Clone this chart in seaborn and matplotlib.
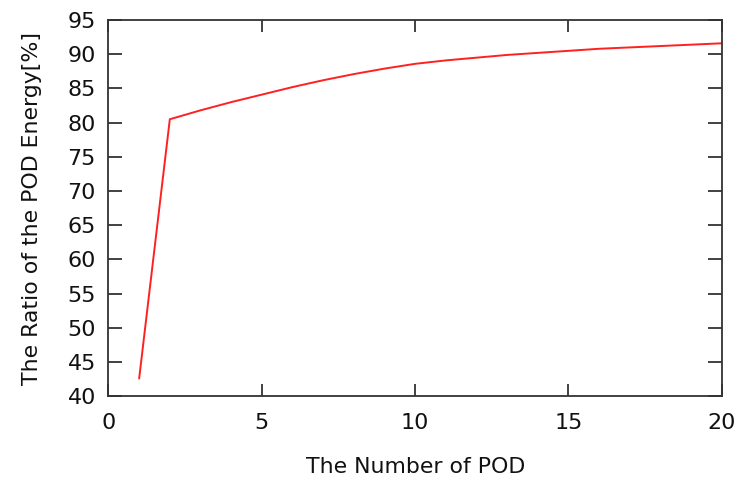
import matplotlib
matplotlib.use("Agg")
import matplotlib.pyplot as plt
import seaborn as sns
import pandas as pd

# Data
num_pod = [1, 2, 3, 4, 5, 6, 7, 8, 9, 10, 11, 12, 13, 14, 15, 16, 17, 18, 19, 20]
energy_ratio = [42.6, 80.5, 81.8, 83.0, 84.1, 85.2, 86.2, 87.1, 87.9, 88.6,
                89.1, 89.5, 89.9, 90.2, 90.5, 90.8, 91.0, 91.2, 91.4, 91.6]
x_ticks = [0, 5, 10, 15, 20]
y_ticks = [40, 45, 50, 55, 60, 65, 70, 75, 80, 85, 90, 95]

sns.set_theme(style="ticks")
plt.rcParams['font.family'] = ['DejaVu Sans']

df = pd.DataFrame({"The Number of POD": num_pod, "Ratio": energy_ratio})

fig = plt.figure(figsize=(7.38, 4.83), dpi=100)
ax = fig.add_axes([0.147, 0.1795, 0.831, 0.779])

sns.lineplot(data=df, x="The Number of POD", y="Ratio", ax=ax,
             color="#ff2020", linewidth=1.4)

ax.set_xlim(0, 20)
ax.set_ylim(40, 95)
ax.set_xticks(x_ticks)
ax.set_yticks(y_ticks)
ax.set_xticklabels([str(v) for v in x_ticks])
ax.set_yticklabels([str(v) for v in y_ticks])

for sp in ax.spines.values():
    sp.set_visible(True)
    sp.set_color("#333333")
    sp.set_linewidth(1.3)

ax.tick_params(axis="both", direction="in", top=True, right=True,
               colors="#333333", width=1.3, labelcolor="#111111",
               labelsize=16)
ax.tick_params(axis="y", length=10, pad=9)
ax.tick_params(axis="x", length=8.5, pad=12)

ax.set_xlabel("The Number of POD", fontsize=15.8, color="#111111", labelpad=17)
ax.set_ylabel("The Ratio of the POD Energy[%]", fontsize=15.8, color="#111111", labelpad=18)

fig.savefig("out.png", dpi=100)
